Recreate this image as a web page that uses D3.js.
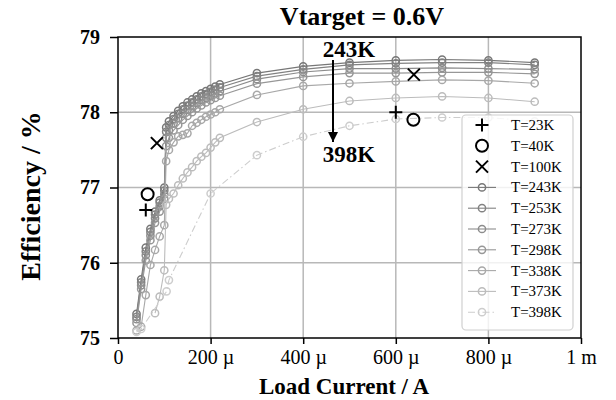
<!DOCTYPE html>
<html>
<head>
<meta charset="utf-8">
<script src="https://cdn.jsdelivr.net/npm/d3@7"></script>
<style>
  body { margin: 0; background: #fff; }
  svg { display: block; font-family: "Liberation Serif", "Times New Roman", serif; }
</style>
</head>
<body>
<svg id="chart" width="616" height="400"></svg>
<script>
// load current in µA
const currentsMain = [40, 50, 60, 70, 80, 90, 100, 104, 110, 120, 130, 140, 150, 160, 170, 180, 190, 200, 210, 220, 300, 400, 500, 600, 700, 800, 900];
const currents373 = [80, 90, 100, 104, 110, 120, 130, 140, 150, 160, 170, 180, 190, 200, 210, 220, 300, 400, 500, 600, 700, 800, 900];
const currents398 = [40, 50, 105, 110, 200, 300, 400, 500, 600, 700, 800, 900];

const eff243 = [75.32, 75.78, 76.2, 76.45, 76.68, 76.83, 77.0, 77.8, 77.88, 77.95, 78.02, 78.08, 78.13, 78.17, 78.21, 78.25, 78.28, 78.31, 78.34, 78.37, 78.52, 78.61, 78.66, 78.69, 78.70, 78.69, 78.66];
const eff253 = [75.28, 75.74, 76.15, 76.41, 76.64, 76.8, 76.96, 77.74, 77.83, 77.91, 77.98, 78.04, 78.09, 78.13, 78.17, 78.21, 78.24, 78.27, 78.3, 78.33, 78.48, 78.57, 78.63, 78.65, 78.66, 78.66, 78.63];
const eff273 = [75.25, 75.7, 76.1, 76.36, 76.59, 76.75, 76.91, 77.66, 77.76, 77.85, 77.92, 77.98, 78.03, 78.08, 78.12, 78.16, 78.19, 78.22, 78.25, 78.28, 78.44, 78.535, 78.58, 78.58, 78.59, 78.58, 78.57];
const eff298 = [75.2, 75.65, 76.03, 76.3, 76.53, 76.68, 76.85, 77.55, 77.66, 77.76, 77.83, 77.9, 77.95, 78.0, 78.05, 78.09, 78.13, 78.16, 78.19, 78.22, 78.38, 78.47, 78.52, 78.52, 78.53, 78.53, 78.51];
const eff338 = [75.1, 75.15, 75.57, 75.97, 76.17, 76.35, 76.5, 77.35, 77.5, 77.6, 77.68, 77.7, 77.72, 77.82, 77.86, 77.9, 77.94, 77.97, 78.0, 78.04, 78.23, 78.35, 78.385, 78.41, 78.43, 78.42, 78.385];
const eff373 = [75.33, 75.55, 75.9, 76.77, 76.85, 76.92, 77.03, 77.12, 77.2, 77.27, 77.35, 77.41, 77.46, 77.53, 77.6, 77.66, 77.87, 78.04, 78.15, 78.19, 78.21, 78.19, 78.14];
const eff398 = [75.08, 75.12, 75.62, 75.77, 76.92, 77.43, 77.675, 77.82, 77.91, 77.93, 77.93, 77.88];

// single measured points
const current23 = [60, 600], eff23 = [76.7, 78.0];
const current40 = [64, 638], eff40 = [76.91, 77.9];
const current100 = [84, 639], eff100 = [77.59, 78.5];

const seriesNames = ["T=243K", "T=253K", "T=273K", "T=298K", "T=338K", "T=373K", "T=398K"];
const seriesColors = ["#777777", "#828282", "#8c8c8c", "#979797", "#a8a8a8", "#bcbcbc", "#cdcdcd"];
const xTickValues = [0, 200, 400, 600, 800, 1000];
const xTickLabels = ["0", "200 µ", "400 µ", "600 µ", "800 µ", "1 m"];
const yTickValues = [75, 76, 77, 78, 79];

const series = [
  { x: currentsMain, y: eff243 },
  { x: currentsMain, y: eff253 },
  { x: currentsMain, y: eff273 },
  { x: currentsMain, y: eff298 },
  { x: currentsMain, y: eff338 },
  { x: currents373, y: eff373 },
  { x: currents398, y: eff398, dash: "7,3,1.5,3" }
];

const svg = d3.select("#chart");
const pLeft = 118, pRight = 581, pTop = 37, pBottom = 338;

const x = d3.scaleLinear().domain([0, 1000]).range([pLeft, pRight]);
const y = d3.scaleLinear().domain([75, 79]).range([pBottom, pTop]);

// grid
svg.append("g").selectAll("line").data(xTickValues.slice(1, -1)).join("line")
  .attr("x1", d => x(d)).attr("x2", d => x(d)).attr("y1", pTop).attr("y2", pBottom)
  .attr("stroke", "#b8b8b8").attr("stroke-width", 1.5);
svg.append("g").selectAll("line").data(yTickValues.slice(1, -1)).join("line")
  .attr("y1", d => y(d)).attr("y2", d => y(d)).attr("x1", pLeft).attr("x2", pRight)
  .attr("stroke", "#b8b8b8").attr("stroke-width", 1.5);

svg.append("clipPath").attr("id", "clip").append("rect")
  .attr("x", pLeft).attr("y", pTop - 4).attr("width", pRight - pLeft).attr("height", pBottom - pTop + 4);

const plot = svg.append("g").attr("clip-path", "url(#clip)");

const line = d3.line().x(d => x(d[0])).y(d => y(d[1]));

series.forEach((s, i) => {
  const pts = s.x.map((v, k) => [v, s.y[k]]);
  const g = plot.append("g");
  g.append("path").datum(pts)
    .attr("d", line).attr("fill", "none")
    .attr("stroke", seriesColors[i]).attr("stroke-width", 1.1)
    .attr("stroke-dasharray", s.dash || null);
  g.selectAll("circle").data(pts).join("circle")
    .attr("cx", d => x(d[0])).attr("cy", d => y(d[1])).attr("r", 3.6)
    .attr("fill", "none").attr("stroke", seriesColors[i]).attr("stroke-width", 1.5);
});

// marker shapes
function plus(g, cx, cy) {
  g.append("path").attr("d", `M${cx - 6.5},${cy}H${cx + 6.5}M${cx},${cy - 6.5}V${cy + 6.5}`)
    .attr("stroke", "#000").attr("stroke-width", 2);
}
function ring(g, cx, cy) {
  g.append("circle").attr("cx", cx).attr("cy", cy).attr("r", 6)
    .attr("fill", "none").attr("stroke", "#000").attr("stroke-width", 2);
}
function cross(g, cx, cy) {
  g.append("path").attr("d", `M${cx - 6},${cy - 6}L${cx + 6},${cy + 6}M${cx - 6},${cy + 6}L${cx + 6},${cy - 6}`)
    .attr("stroke", "#000").attr("stroke-width", 2);
}

const marks = svg.append("g");
current23.forEach((c, i) => plus(marks, x(c), y(eff23[i])));
current40.forEach((c, i) => ring(marks, x(c), y(eff40[i])));
current100.forEach((c, i) => cross(marks, x(c), y(eff100[i])));

// arrow annotation
svg.append("defs").append("marker").attr("id", "head")
  .attr("viewBox", "0 0 10 10").attr("refX", 10).attr("refY", 5)
  .attr("markerWidth", 5).attr("markerHeight", 5).attr("orient", "auto")
  .append("path").attr("d", "M0,0L10,5L0,10Z").attr("fill", "#000");
svg.append("line").attr("x1", 333).attr("x2", 333).attr("y1", 60).attr("y2", 142)
  .attr("stroke", "#000").attr("stroke-width", 2).attr("marker-end", "url(#head)");
svg.append("text").attr("x", 349).attr("y", 57).attr("text-anchor", "middle")
  .attr("font-size", 23).attr("font-weight", "bold").text("243K");
svg.append("text").attr("x", 349).attr("y", 162).attr("text-anchor", "middle")
  .attr("font-size", 23).attr("font-weight", "bold").text("398K");

// frame
svg.append("rect").attr("x", pLeft).attr("y", pTop).attr("width", pRight - pLeft).attr("height", pBottom - pTop)
  .attr("fill", "none").attr("stroke", "#000").attr("stroke-width", 1.5);

// axes
const xAxis = svg.append("g").attr("transform", `translate(0,${pBottom})`)
  .call(d3.axisBottom(x).tickValues(xTickValues).tickFormat((d, i) => xTickLabels[i]).tickSize(6).tickPadding(6));
xAxis.select(".domain").remove();
xAxis.selectAll("line").attr("stroke-width", 1.5);
xAxis.selectAll("text").attr("font-family", "Liberation Serif").attr("font-size", 20).attr("fill", "#000");

const yAxis = svg.append("g").attr("transform", `translate(${pLeft},0)`)
  .call(d3.axisLeft(y).tickValues(yTickValues).tickFormat(d3.format("d")).tickSize(8).tickPadding(10));
yAxis.select(".domain").remove();
yAxis.selectAll("line").attr("stroke-width", 1.5);
yAxis.selectAll("text").attr("font-family", "Liberation Serif").attr("font-size", 20)
  .attr("font-weight", "bold").attr("fill", "#000");

// titles
svg.append("text").attr("x", 362).attr("y", 25).attr("text-anchor", "middle")
  .attr("font-size", 26).attr("font-weight", "bold").text("Vtarget = 0.6V");
svg.append("text").attr("x", 344).attr("y", 394).attr("text-anchor", "middle")
  .attr("font-size", 23).attr("font-weight", "bold").text("Load Current / A");
svg.append("text").attr("transform", "translate(40,196) rotate(-90)").attr("text-anchor", "middle")
  .attr("font-size", 28).attr("font-weight", "bold").text("Efficiency / %");

// legend
const legend = svg.append("g");
legend.append("rect").attr("x", 462).attr("y", 115).attr("width", 111).attr("height", 215)
  .attr("rx", 4).attr("fill", "#fff").attr("fill-opacity", 0.8)
  .attr("stroke", "#d0d0d0").attr("stroke-width", 1.2);
const legendNames = ["T=23K", "T=40K", "T=100K"].concat(seriesNames);
legendNames.forEach((name, i) => {
  const ly = 125 + i * 20.8;
  if (i === 0) plus(legend, 482, ly);
  else if (i === 1) ring(legend, 482, ly);
  else if (i === 2) cross(legend, 482, ly);
  else {
    const k = i - 3;
    legend.append("line").attr("x1", 468).attr("x2", 496).attr("y1", ly).attr("y2", ly)
      .attr("stroke", seriesColors[k]).attr("stroke-width", 1.1)
      .attr("stroke-dasharray", series[k].dash || null);
    legend.append("circle").attr("cx", 482).attr("cy", ly).attr("r", 3.6)
      .attr("fill", "none").attr("stroke", seriesColors[k]).attr("stroke-width", 1.5);
  }
  legend.append("text").attr("x", 511).attr("y", ly + 5).attr("font-size", 15).text(name);
});
</script>
</body>
</html>
